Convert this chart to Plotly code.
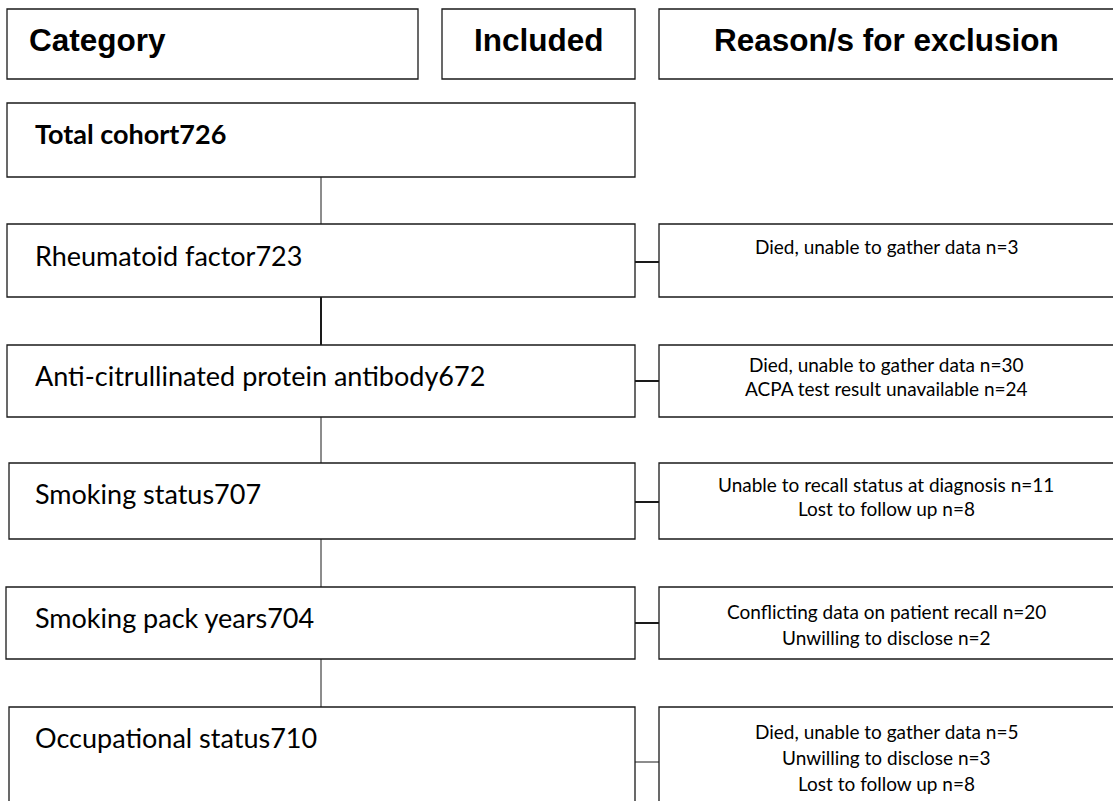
import plotly.graph_objects as go

# ---------------- data ----------------
headers = ["Category", "Included", "Reason/s for exclusion"]
categories = [
    "Total cohort",
    "Rheumatoid factor",
    "Anti-citrullinated protein antibody",
    "Smoking status",
    "Smoking pack years",
    "Occupational status",
]
included = [726, 723, 672, 707, 704, 710]
exclusion_reasons = [
    [],
    ["Died, unable to gather data n=3"],
    ["Died, unable to gather data n=30", "ACPA test result unavailable n=24"],
    ["Unable to recall status at diagnosis n=11", "Lost to follow up n=8"],
    ["Conflicting data on patient recall n=20", "Unwilling to disclose n=2"],
    ["Died, unable to gather data n=5", "Unwilling to disclose n=3", "Lost to follow up n=8"],
]

# ---------------- layout / style ----------------
W, H = 1113, 801
LINE = "#1a1a1a"
header_boxes = [(7, 418), (442, 635), (659, 1125)]
header_y = (9, 79)
header_text_y = 40
row_left = [7, 7, 7, 9, 6, 9]
row_right = 635
row_top = [103, 224, 345, 463, 587, 707]
row_bot = [177, 297, 417, 539, 659, 840]
row_text_y = [133, 255, 375, 493, 617, 737]
reason_left, reason_right = 659, 1125
reason_first_y = [None, 246, 364, 484, 611, 731]
reason_step = [0, 0, 24, 24, 26, 26]
conn_x = 321
conn_width = [1, 2, 1, 1, 1]
hconn_y = [None, 262, 381, 502, 623, 762]
hconn_width = [0, 2, 2, 2, 2, 1]

HEAD_FONT = dict(family="Liberation Sans, Arial, sans-serif", size=31.5, color="black")
ROW_FONT = dict(family="Lato, Carlito, sans-serif", size=27, color="black")
REASON_FONT = dict(family="Lato, Carlito, sans-serif", size=19, color="black")

shapes = []
annotations = []


def rect(x0, y0, x1, y1, w=1.3):
    shapes.append(dict(type="rect", xref="x", yref="y", x0=x0, y0=y0, x1=x1, y1=y1,
                       line=dict(color=LINE, width=w), fillcolor="white", layer="below"))


def seg(x0, y0, x1, y1, w=1.0):
    shapes.append(dict(type="line", xref="x", yref="y", x0=x0, y0=y0, x1=x1, y1=y1,
                       line=dict(color=LINE, width=w)))


# headers
for i, (label, (x0, x1)) in enumerate(zip(headers, header_boxes)):
    rect(x0, header_y[0], x1, header_y[1])
    if i == 0:
        annotations.append(dict(x=27, y=header_text_y, text=f"<b>{label}</b>", xanchor="left",
                                yanchor="middle", showarrow=False, font=HEAD_FONT))
    else:
        cx = (x0 + x1) / 2 if i == 1 else 886
        annotations.append(dict(x=cx, y=header_text_y, text=f"<b>{label}</b>", xanchor="center",
                                yanchor="middle", showarrow=False, font=HEAD_FONT))

# rows
for i, (cat, n, reasons) in enumerate(zip(categories, included, exclusion_reasons)):
    rect(row_left[i], row_top[i], row_right, row_bot[i])
    txt = f"{cat}{n}"
    if i == 0:
        txt = f"<b>{txt}</b>"
    annotations.append(dict(x=33, y=row_text_y[i], text=txt, xanchor="left", yanchor="middle",
                            showarrow=False, font=ROW_FONT))
    if reasons:
        rect(reason_left, row_top[i], reason_right, row_bot[i])
        seg(row_right, hconn_y[i], reason_left, hconn_y[i], hconn_width[i])
        for k, r in enumerate(reasons):
            annotations.append(dict(x=886, y=reason_first_y[i] + k * reason_step[i], text=r,
                                    xanchor="center", yanchor="middle", showarrow=False,
                                    font=REASON_FONT))
    if i < len(categories) - 1:
        seg(conn_x, row_bot[i], conn_x, row_top[i + 1], conn_width[i])

fig = go.Figure()
fig.update_layout(
    width=W, height=H,
    margin=dict(l=0, r=0, t=0, b=0),
    paper_bgcolor="white", plot_bgcolor="white",
    xaxis=dict(range=[0, W], visible=False, fixedrange=True),
    yaxis=dict(range=[H, 0], visible=False, fixedrange=True),
    shapes=shapes, annotations=annotations, showlegend=False,
)
fig.write_html(
    "out.html",
    config={"displayModeBar": False},
    post_script="document.body.style.margin='0';document.body.style.overflow='hidden';",
)
